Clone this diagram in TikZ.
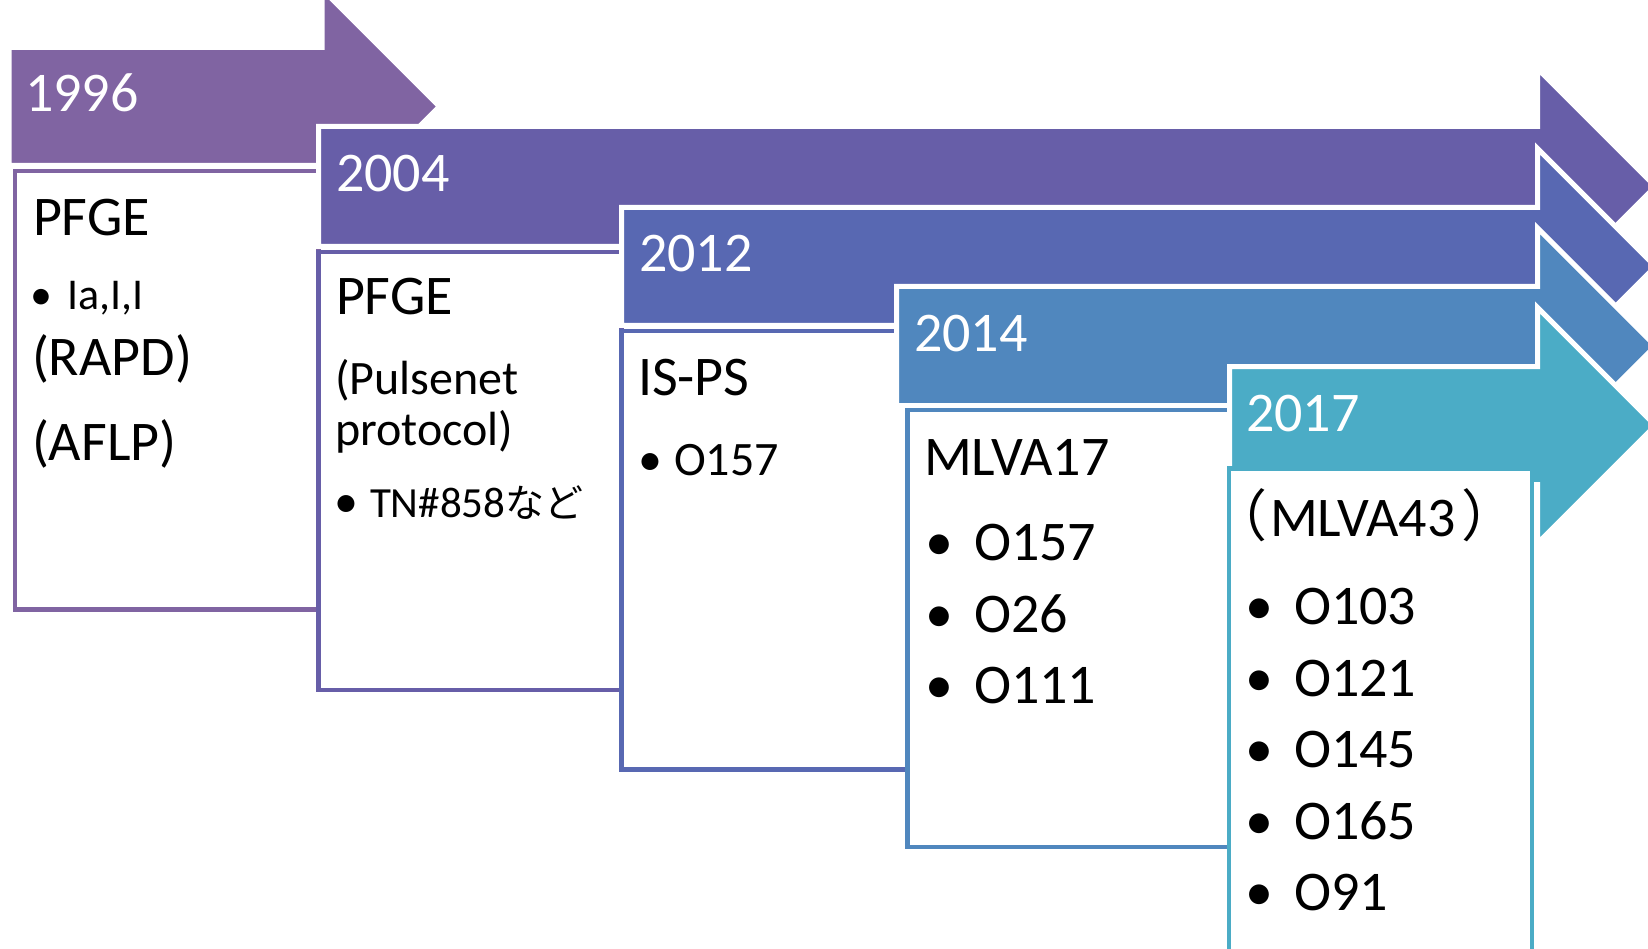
\documentclass[tikz,border=0pt]{standalone}
\usepackage{fontspec}
\setmainfont{Carlito}
\newfontfamily\jp{Noto Sans CJK JP}
\definecolor{cA}{HTML}{8064A2}
\definecolor{cB}{HTML}{675EA8}
\definecolor{cC}{HTML}{5868B2}
\definecolor{cD}{HTML}{5087BE}
\definecolor{cE}{HTML}{4BACC6}
\newcommand\tlarrow[6]{%
  \draw[arrowshape=#6] (#1,#2) -- (#4,#2) -- (#4,{(#2+#3)/2-#5}) --
    ({#4+#5},{(#2+#3)/2}) -- (#4,{(#2+#3)/2+#5}) -- (#4,#3) -- (#1,#3) -- cycle;}
\tikzset{
  arrowshape/.style={fill=#1, draw=white, line width=5pt, line join=miter},
  tlbox/.style={fill=white, draw=#1, line width=4.5pt},
  txt/.style={anchor=base west, inner sep=0pt, outer sep=0pt},
  bul/.style={anchor=base, inner sep=0pt, outer sep=0pt},
  yr/.style={txt, text=white, font=\fontsize{56}{60}\selectfont},
  bigt/.style={txt, font=\fontsize{56}{60}\selectfont},
  bigb/.style={bul, font=\fontsize{56}{60}\selectfont},
  midt/.style={txt, font=\fontsize{48}{52}\selectfont},
  midb/.style={bul, font=\fontsize{48}{52}\selectfont},
  tnt/.style={txt, font=\fontsize{43}{47}\selectfont},
  smlt/.style={txt, font=\fontsize{44}{48}\selectfont},
  smlb/.style={bul, font=\fontsize{44}{48}\selectfont},
}
\begin{document}
\begin{tikzpicture}[x=1pt,y=-1pt]
\useasboundingbox (0,0) rectangle (1648,949);
\clip (0,0) rectangle (1648,949);
\fill[white] (0,0) rectangle (1648,949);
% stage 1
\tlarrow{9}{47.5}{165.5}{322}{117.5}{cA}
\draw[tlbox=cA] (15,171) rectangle (318.5,609.5);
% stage 2
\tlarrow{318.5}{126.5}{246.5}{1537.5}{118}{cB}
\draw[tlbox=cB] (318.5,252) rectangle (621.5,690);
% stage 3
\tlarrow{621.5}{207.5}{325.5}{1537.5}{118}{cC}
\draw[tlbox=cC] (621.5,331) rectangle (907.5,769.5);
% stage 4
\tlarrow{896.5}{286.5}{405.5}{1537.5}{118}{cD}
\draw[tlbox=cD] (907.5,410) rectangle (1229,847);
% stage 5
\tlarrow{1229.5}{366.5}{484.5}{1537.5}{118}{cE}
\draw[tlbox=cE] (1229,468.5) rectangle (1532,1010);
% years
\node[yr] (y1) at (25,112) {1996};
\node[yr] (y2) at (336,192) {2004};
\node[yr] (y3) at (639,272) {2012};
\node[yr] (y4) at (914,352) {2014};
\node[yr] (y5) at (1246,431) {2017};
% box 1
\node[bigt] (b1a) at (33,236) {PFGE};
\node[smlb] (b1bb) at (41.5,310) {•};
\node[smlt] (b1b) at (67,310) {Ia,I,I};
\node[bigt] (b1c) at (32,375) {(RAPD)};
\node[bigt] (b1d) at (32,460) {(AFLP)};
% box 2
\node[bigt] (b2a) at (336,315) {PFGE};
\node[midt] (b2b) at (335,394) {(Pulsenet};
\node[midt] (b2c) at (335,445) {protocol)};
\node[midb] (b2db) at (346,517) {•};
\node[tnt] (b2d) at (370,517) {TN\#858{\jp\fontsize{39}{43}\selectfont など}};
% box 3
\node[bigt] (b3a) at (638,395) {IS-PS};
\node[midb] (b3bb) at (650,475) {•};
\node[midt] (b3b) at (674,475) {O157};
% box 4
\node[bigt] (b4a) at (924,475) {MLVA17};
\node[bigb] (b4bb) at (939,560) {•};
\node[bigt] (b4b) at (974,560) {O157};
\node[bigb] (b4cb) at (939,632) {•};
\node[bigt] (b4c) at (974,632) {O26};
\node[bigb] (b4db) at (939,703) {•};
\node[bigt] (b4d) at (974,703) {O111};
% box 5
\node[bigt] (b5a) at (1211,536) {{\jp （}\hspace{3pt}MLVA43\hspace{6pt}{\jp ）}};
\node[bigb] (b5bb) at (1259,624) {•};
\node[bigt] (b5b) at (1294,624) {O103};
\node[bigb] (b5cb) at (1259,696) {•};
\node[bigt] (b5c) at (1294,696) {O121};
\node[bigb] (b5db) at (1259,767) {•};
\node[bigt] (b5d) at (1294,767) {O145};
\node[bigb] (b5eb) at (1259,839) {•};
\node[bigt] (b5e) at (1294,839) {O165};
\node[bigb] (b5fb) at (1259,910) {•};
\node[bigt] (b5f) at (1294,910) {O91};
\end{tikzpicture}
\end{document}
